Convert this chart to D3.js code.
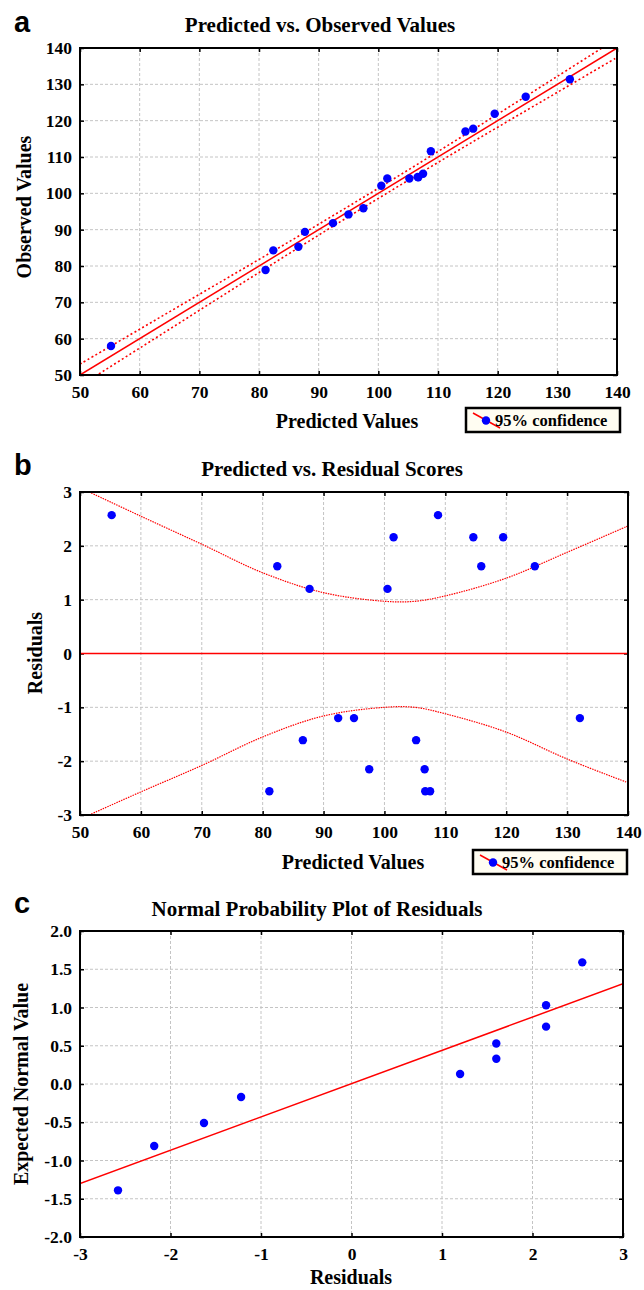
<!DOCTYPE html>
<html>
  <head>
    <script src="https://d3js.org/d3.v7.min.js"></script>
    <style>
      body { margin: 0; background: #fff; }
      text { font-family: "Liberation Serif", "Times New Roman", serif; font-weight: bold; fill: #000; }
      .tick text { font-size: 17.5px; }
      .grid line { stroke: #c4c4c4; stroke-dasharray: 3,2; }
    </style>
  </head>
  <body>
    <div id="chart"></div>
    <script>
      // Data
      const predicted = [55.2, 81.1, 82.4, 86.6, 87.7, 92.4, 95.0, 97.5, 100.5, 101.5,
                         105.2, 106.6, 106.7, 107.5, 108.8, 114.6, 115.9, 119.5, 124.7, 132.1];
      const observed  = [58.0, 78.9, 84.3, 85.3, 89.4, 91.8, 94.2, 95.9, 102.1, 104.1,
                         104.1, 104.5, 104.4, 105.4, 111.6, 117.0, 117.8, 121.9, 126.6, 131.4];
      const residuals = [2.57, -2.56, 1.62, -1.61, 1.20, -1.20, -1.20, -2.15, 1.20, 2.16,
                         -1.61, -2.15, -2.56, -2.56, 2.57, 2.16, 1.62, 2.16, 1.62, -1.20];

      // panel a: fit line and 95% band
      const fitAx = [50, 140];
      const fitAy = [50, 140];
      const bandAx = [50, 60, 70, 80, 90, 100, 110, 120, 130, 140];
      const bandAUpper = [53.0, 62.6, 72.2, 81.8, 91.5, 101.4, 111.5, 121.8, 132.2, 142.6];
      const bandALower = [47.0, 57.4, 67.8, 78.2, 88.5, 98.6, 108.5, 118.2, 127.8, 137.4];

      // panel b: zero line and 95% band
      const zeroBx = [50, 140];
      const zeroBy = [0, 0];
      const bandBx = [51.5, 60, 70, 80, 90, 100, 105, 110, 120, 130, 140];
      const bandBUpper = [3.0, 2.55, 2.03, 1.5, 1.13, 0.97, 0.97, 1.07, 1.4, 1.88, 2.37];
      const bandBLower = [-3.0, -2.57, -2.08, -1.55, -1.16, -1.0, -1.0, -1.12, -1.46, -1.96, -2.4];

      // panel c: normal probability plot
      const normResid    = [-2.58, -2.18, -1.63, -1.22, 1.20, 1.60, 1.60, 2.15, 2.15, 2.55];
      const normExpected = [-1.39, -0.81, -0.51, -0.17, 0.13, 0.33, 0.53, 0.75, 1.03, 1.59];
      const fitCx = [-3, 3];
      const fitCy = [-1.3, 1.31];

      const ticksA = d3.range(50, 141, 10);
      const ticksBy = d3.range(-3, 4, 1);
      const ticksCx = d3.range(-3, 4, 1);
      const ticksCy = d3.range(-2, 2.01, 0.5);

      const svg = d3.select("#chart")
        .append("svg")
        .attr("width", 644)
        .attr("height", 1290);

      svg.append("rect").attr("width", 644).attr("height", 1290).attr("fill", "#fff");

      function panel(o) {
        const g = svg.append("g");
        const x = d3.scaleLinear().domain(o.xDomain).range([o.left, o.right]);
        const y = d3.scaleLinear().domain(o.yDomain).range([o.bottom, o.top]);

        const clipId = "clip-" + o.letter;
        svg.append("clipPath").attr("id", clipId)
          .append("rect")
          .attr("x", o.left).attr("y", o.top)
          .attr("width", o.right - o.left).attr("height", o.bottom - o.top);

        // grid
        const grid = g.append("g").attr("class", "grid");
        grid.selectAll(".gx").data(o.xTicks).join("line")
          .attr("x1", d => x(d)).attr("x2", d => x(d))
          .attr("y1", o.top).attr("y2", o.bottom);
        grid.selectAll(".gy").data(o.yTicks).join("line")
          .attr("class", "gy")
          .attr("x1", o.left).attr("x2", o.right)
          .attr("y1", d => y(d)).attr("y2", d => y(d));

        // axes with inner ticks
        g.append("g")
          .attr("transform", `translate(0, ${o.bottom})`)
          .call(d3.axisBottom(x).tickValues(o.xTicks).tickSize(-4).tickPadding(11).tickFormat(o.xFormat))
          .call(a => a.select(".domain").remove());
        g.append("g")
          .attr("transform", `translate(${o.left}, 0)`)
          .call(d3.axisLeft(y).tickValues(o.yTicks).tickSize(-4).tickPadding(8).tickFormat(o.yFormat))
          .call(a => a.select(".domain").remove());
        g.append("g")
          .attr("transform", `translate(0, ${o.top})`)
          .call(d3.axisTop(x).tickValues(o.xTicks).tickSize(-4).tickFormat(""))
          .call(a => a.select(".domain").remove());
        g.append("g")
          .attr("transform", `translate(${o.right}, 0)`)
          .call(d3.axisRight(y).tickValues(o.yTicks).tickSize(-4).tickFormat(""))
          .call(a => a.select(".domain").remove());
        g.selectAll(".tick line").attr("stroke", "#000").attr("stroke-width", 1.5);

        const plot = g.append("g").attr("clip-path", `url(#${clipId})`);
        o.lines.forEach(l => {
          const line = d3.line()
            .x((d, i) => x(l.x[i]))
            .y(d => y(d))
            .curve(l.curve || d3.curveLinear);
          plot.append("path")
            .datum(l.y)
            .attr("d", line)
            .attr("fill", "none")
            .attr("stroke", "#ff0000")
            .attr("stroke-width", l.width)
            .attr("stroke-dasharray", l.dash || null);
        });

        plot.selectAll(".pt").data(o.px).join("circle")
          .attr("cx", d => x(d))
          .attr("cy", (d, i) => y(o.py[i]))
          .attr("r", 4.2)
          .attr("fill", "#0000ff");

        // frame
        g.append("rect")
          .attr("x", o.left).attr("y", o.top)
          .attr("width", o.right - o.left).attr("height", o.bottom - o.top)
          .attr("fill", "none").attr("stroke", "#000").attr("stroke-width", 2);

        // titles and labels
        g.append("text")
          .attr("x", 14).attr("y", o.letterY)
          .style("font-family", "'Liberation Sans', Arial, sans-serif")
          .style("font-size", "29px")
          .text(o.letter);
        g.append("text")
          .attr("x", o.titleX).attr("y", o.titleY)
          .attr("text-anchor", "middle")
          .style("font-size", "21px")
          .text(o.title);
        g.append("text")
          .attr("x", o.xLabelX).attr("y", o.xLabelY)
          .attr("text-anchor", "middle")
          .style("font-size", "20px")
          .text(o.xLabel);
        g.append("text")
          .attr("transform", `translate(${o.yLabelX}, ${o.yLabelY}) rotate(-90)`)
          .attr("text-anchor", "middle")
          .style("font-size", "20px")
          .text(o.yLabel);

        if (o.legend) {
          const lg = g.append("g").attr("transform", `translate(${o.legend[0]}, ${o.legend[1]})`);
          lg.append("rect")
            .attr("width", 154).attr("height", 24)
            .attr("fill", "#fffdf2").attr("stroke", "#000").attr("stroke-width", 2.5);
          lg.append("line")
            .attr("x1", 7).attr("y1", 5).attr("x2", 34).attr("y2", 20)
            .attr("stroke", "#ff0000").attr("stroke-width", 1.5);
          lg.append("circle").attr("cx", 20).attr("cy", 12.5).attr("r", 4.2).attr("fill", "#0000ff");
          lg.append("text").attr("x", 29).attr("y", 18).style("font-size", "16.5px").text("95% confidence");
        }
      }

      const plain = d => String(d);

      panel({
        letter: "a", letterY: 32,
        left: 80, right: 617, top: 48, bottom: 375,
        xDomain: [50, 140], yDomain: [50, 140],
        xTicks: ticksA, yTicks: ticksA, xFormat: plain, yFormat: plain,
        title: "Predicted vs. Observed Values", titleX: 320, titleY: 32,
        xLabel: "Predicted Values", xLabelX: 347, xLabelY: 428,
        yLabel: "Observed Values", yLabelX: 31, yLabelY: 207,
        px: predicted, py: observed,
        lines: [
          { x: fitAx, y: fitAy, width: 1.5 },
          { x: bandAx, y: bandAUpper, width: 1.6, dash: "2,2.5", curve: d3.curveCatmullRom },
          { x: bandAx, y: bandALower, width: 1.6, dash: "2,2.5", curve: d3.curveCatmullRom }
        ],
        legend: [466, 408]
      });

      panel({
        letter: "b", letterY: 475,
        left: 80, right: 628, top: 492, bottom: 815,
        xDomain: [50, 140], yDomain: [-3, 3],
        xTicks: ticksA, yTicks: ticksBy, xFormat: plain, yFormat: plain,
        title: "Predicted vs. Residual Scores", titleX: 332, titleY: 476,
        xLabel: "Predicted Values", xLabelX: 353, xLabelY: 869,
        yLabel: "Residuals", yLabelX: 42, yLabelY: 653,
        px: predicted, py: residuals,
        lines: [
          { x: zeroBx, y: zeroBy, width: 1.5 },
          { x: bandBx, y: bandBUpper, width: 1.2, dash: "1.5,1", curve: d3.curveCatmullRom },
          { x: bandBx, y: bandBLower, width: 1.2, dash: "1.5,1", curve: d3.curveCatmullRom }
        ],
        legend: [473, 850]
      });

      panel({
        letter: "c", letterY: 913,
        left: 80, right: 623, top: 931, bottom: 1237,
        xDomain: [-3, 3], yDomain: [-2, 2],
        xTicks: ticksCx, yTicks: ticksCy, xFormat: plain, yFormat: d => d.toFixed(1),
        title: "Normal Probability Plot of Residuals", titleX: 317, titleY: 916,
        xLabel: "Residuals", xLabelX: 351, xLabelY: 1284,
        yLabel: "Expected Normal Value", yLabelX: 28, yLabelY: 1084,
        px: normResid, py: normExpected,
        lines: [
          { x: fitCx, y: fitCy, width: 1.5 }
        ]
      });
    </script>
  </body>
</html>
